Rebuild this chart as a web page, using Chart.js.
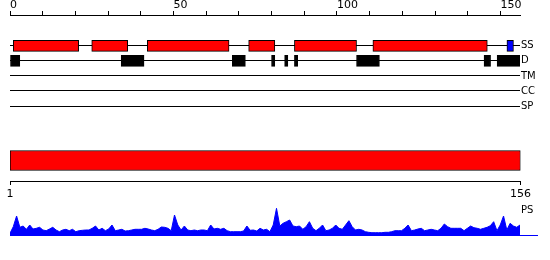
<!DOCTYPE html>
<html>
<head>
<meta charset="utf-8">
<script src="https://cdn.jsdelivr.net/npm/chart.js@4.4.1/dist/chart.umd.min.js"></script>
<style>
  body { margin: 0; background: #fff; width: 550px; height: 260px; position: relative; overflow: hidden; font-family: "DejaVu Sans", sans-serif; }
  canvas { position: absolute; left: 0; }
  #ps-label { position: absolute; left: 521px; top: 205px; font-size: 10px; line-height: 10px; color: #000; }
</style>
</head>
<body>
<canvas id="tracks" width="550" height="120" style="top:0"></canvas>
<canvas id="protein" width="550" height="61" style="top:140px"></canvas>
<canvas id="ps" width="550" height="36" style="top:200px"></canvas>
<div id="ps-label">PS</div>
<script>
const seqLength = 156;
const trackNames = ['SS', 'D', 'TM', 'CC', 'SP'];
const helixRanges = [[1, 21], [25, 36], [42, 67], [73, 81], [87, 106], [111, 146]];
const strandRanges = [[152, 154]];
const disorderRanges = [[0, 3], [34, 41], [68, 72], [80, 81], [84, 85], [87, 88], [106, 113], [145, 147], [149, 156]];
const topTicks = [0, 10, 20, 30, 40, 50, 60, 70, 80, 90, 100, 110, 120, 130, 140, 150];
const topLabels = [0, 50, 100, 150];
const bottomTicks = [1, 156];
const psValues = [
  1.7, 8.3, 19, 7.7, 9, 5.7, 10, 6, 6.7, 7.7,
  5, 4.3, 6, 7.7, 5, 3.3, 5, 5.7, 4.3, 5.7,
  3.3, 4.3, 4.7, 5, 5, 6.7, 9, 5, 6.7, 4.3,
  6, 10, 4.3, 5, 5.7, 4, 4.3, 5, 5.7, 5.7,
  5.7, 6.7, 6, 5, 4.3, 5.7, 8, 7.7, 6.7, 4.3,
  20, 10, 5, 9, 5, 4.3, 5, 4.3, 5, 5,
  4.3, 10, 6, 6.7, 5.7, 6.7, 4.3, 3.3, 3.3, 3.3,
  3.3, 4, 9, 4.7, 5, 4, 6.7, 5, 5.7, 3.3,
  10, 26.7, 9, 11.7, 13.3, 15, 9, 8.3, 9, 5.7,
  8.3, 13.3, 6.7, 4.3, 6.7, 10, 4.3, 5, 6.7, 10,
  6.7, 5.7, 10, 14.3, 8.3, 5, 5.7, 5, 3.3, 2.7,
  2.3, 2.3, 2.3, 2.3, 2.7, 2.7, 3.3, 4.3, 4.3, 4.3,
  6.7, 10, 4.3, 5, 6, 6.7, 4.3, 5, 5.7, 5,
  4.3, 6.7, 11, 8.3, 6.7, 6.7, 6.7, 6.7, 4.3, 6.7,
  9, 7.3, 6.7, 5.7, 6.7, 7.7, 9.3, 13.3, 4.3, 10,
  19, 5, 11.7, 9, 7.7, 10
];

Chart.defaults.font.family = '"DejaVu Sans", sans-serif';
Chart.defaults.font.size = 11;
Chart.defaults.color = '#000';
Chart.defaults.animation = false;
Chart.defaults.plugins.legend.display = false;
Chart.defaults.plugins.tooltip.enabled = false;

// one dataset per kind of segment, all drawn on a track row
const segments = (ranges, row, fill) => ({
  data: ranges.map(r => ({ x: r, y: row })),
  backgroundColor: fill,
  borderColor: '#000',
  borderWidth: 1,
  borderSkipped: false,
  barThickness: 11,
  grouped: false
});

new Chart(document.getElementById('tracks'), {
  type: 'bar',
  data: {
    datasets: [
      segments(helixRanges, 1, '#ff0000'),
      segments(strandRanges, 1, '#0000ff'),
      segments(disorderRanges, 2, '#000000')
    ]
  },
  options: {
    indexAxis: 'y',
    responsive: false,
    layout: { padding: { left: 10, right: 0, top: 0, bottom: 0 } },
    scales: {
      x: {
        type: 'linear', position: 'top', min: 0, max: seqLength,
        afterBuildTicks: s => { s.ticks = topTicks.map(v => ({ value: v })); },
        ticks: {
          align: 'start', padding: 0, maxRotation: 0, autoSkip: false,
          font: { size: 11, lineHeight: 1 },
          callback: v => topLabels.includes(v) ? String(v) : ''
        },
        grid: { drawOnChartArea: false, color: '#000', tickLength: 4 },
        border: { color: '#000' }
      },
      y: {
        type: 'linear', position: 'right', reverse: true, min: -1.05, max: 5.53, offset: false,
        afterBuildTicks: s => { s.ticks = trackNames.map((n, i) => ({ value: i + 1 })); },
        afterFit: s => { s.width = 30; },
        ticks: { padding: 1, font: { size: 10, lineHeight: 1 }, callback: v => trackNames[v - 1] || '' },
        grid: { color: '#000', drawTicks: false, offset: false },
        border: { display: false }
      }
    }
  }
});

new Chart(document.getElementById('protein'), {
  type: 'bar',
  data: {
    labels: ['chain'],
    datasets: [{
      data: [[1, seqLength]],
      backgroundColor: '#ff0000',
      borderColor: '#000',
      borderWidth: 1,
      borderSkipped: false,
      barThickness: 20
    }]
  },
  options: {
    indexAxis: 'y',
    responsive: false,
    layout: { padding: { left: 10, right: 29.5, top: 0, bottom: 0 } },
    scales: {
      x: {
        type: 'linear', min: 1, max: seqLength,
        afterBuildTicks: s => { s.ticks = bottomTicks.map(v => ({ value: v })); },
        afterFit: s => { s.height = 20; },
        ticks: { padding: 3, maxRotation: 0, autoSkip: false },
        grid: { drawOnChartArea: false, color: '#000', tickLength: 4 },
        border: { color: '#000' }
      },
      y: { display: false }
    }
  }
});

new Chart(document.getElementById('ps'), {
  type: 'line',
  data: {
    datasets: [{
      data: psValues.map((v, i) => ({ x: i + 1, y: v })),
      borderColor: '#0000ff',
      backgroundColor: '#0000ff',
      borderWidth: 1,
      fill: 'origin',
      pointRadius: 0,
      tension: 0
    }]
  },
  options: {
    responsive: false,
    layout: { padding: { left: 10, right: 13, top: 0, bottom: 0 } },
    scales: {
      x: {
        type: 'linear', min: 1, max: 161.17,
        afterFit: s => { s.height = 1; },
        ticks: { display: false },
        grid: { display: false },
        border: { color: '#0000ff' }
      },
      y: { display: false, min: 0, max: 35 }
    }
  }
});
</script>
</body>
</html>
